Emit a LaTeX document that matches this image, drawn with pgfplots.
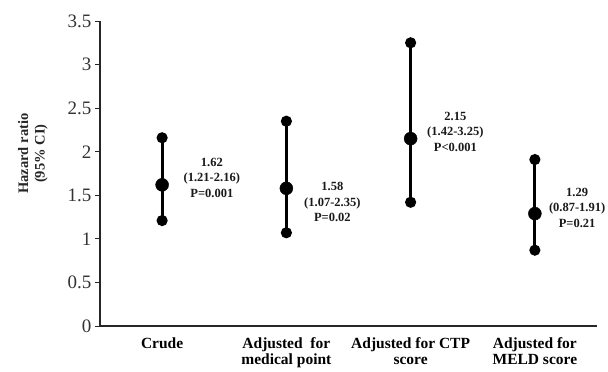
\documentclass[border=0pt]{standalone}
\usepackage{fontspec}
\setmainfont{Liberation Serif}
\usepackage{pgfplots}
\pgfplotsset{compat=1.18}

\begin{document}
\begin{tikzpicture}
\begin{axis}[
  at={(0,0)}, anchor=south west,
  scale only axis,
  width=497pt, height=305pt,
  xmin=0.5, xmax=4.5,
  ymin=0, ymax=3.5,
  axis lines*=left,
  axis line style={line width=1.1pt, black!85},
  tick style={line width=0.9pt, black!85},
  tick align=outside,
  ytick={0,0.5,...,3.5},
  yticklabels={0,0.5,1,1.5,2,2.5,3,3.5},
  major tick length=5pt,
  minor tick length=4pt,
  xtick={1,2,3,4},
  xticklabels={Crude,Adjusted\hspace{0.5em}for\\medical point,Adjusted for CTP\\score,Adjusted for\\MELD score},
  x tick style={draw=none},
  minor xtick={0.5,1.5,2.5,3.5,4.5},
  minor x tick style={line width=0.9pt, black!85},
  xticklabel style={align=center, font=\fontsize{15.5}{16.5}\selectfont\bfseries, anchor=north, yshift=-3pt},
  yticklabel style={font=\fontsize{19}{21}\selectfont, text=black!80},
  /pgf/number format/assume math mode=true,
  ylabel={Hazard ratio\\(95\% CI)},
  every axis y label/.style={at={(axis description cs:-0.135,0.565)}, rotate=90, anchor=center,
    align=center, font=\fontsize{14.5}{16.5}\selectfont\bfseries, text=black!85},
  clip=false,
]
% confidence intervals
\addplot[black, line width=3pt, mark=*, mark size=4pt] coordinates {(1,1.21) (1,2.16)};
\addplot[black, line width=3pt, mark=*, mark size=4pt] coordinates {(2,1.07) (2,2.35)};
\addplot[black, line width=3pt, mark=*, mark size=4pt] coordinates {(3,1.42) (3,3.25)};
\addplot[black, line width=3pt, mark=*, mark size=4pt] coordinates {(4,0.87) (4,1.91)};
% hazard ratios
\addplot[only marks, black, mark=*, mark size=6.5pt] coordinates {(1,1.62) (2,1.58) (3,2.15) (4,1.29)};
% value annotations
\tikzset{ann/.style={align=center, font=\fontsize{12.5}{15.5}\selectfont\bfseries, text=black!90, inner sep=0pt}}
\node[ann] at (axis cs:1.40,1.70) {1.62\\(1.21-2.16)\\P=0.001};
\node[ann] at (axis cs:2.37,1.42) {1.58\\(1.07-2.35)\\P=0.02};
\node[ann] at (axis cs:3.36,2.23) {2.15\\(1.42-3.25)\\P<0.001};
\node[ann] at (axis cs:4.34,1.36) {1.29\\(0.87-1.91)\\P=0.21};
\end{axis}
\pgfresetboundingbox
\path (-100pt,-46pt) rectangle (508pt,326pt);
\end{tikzpicture}
\end{document}
